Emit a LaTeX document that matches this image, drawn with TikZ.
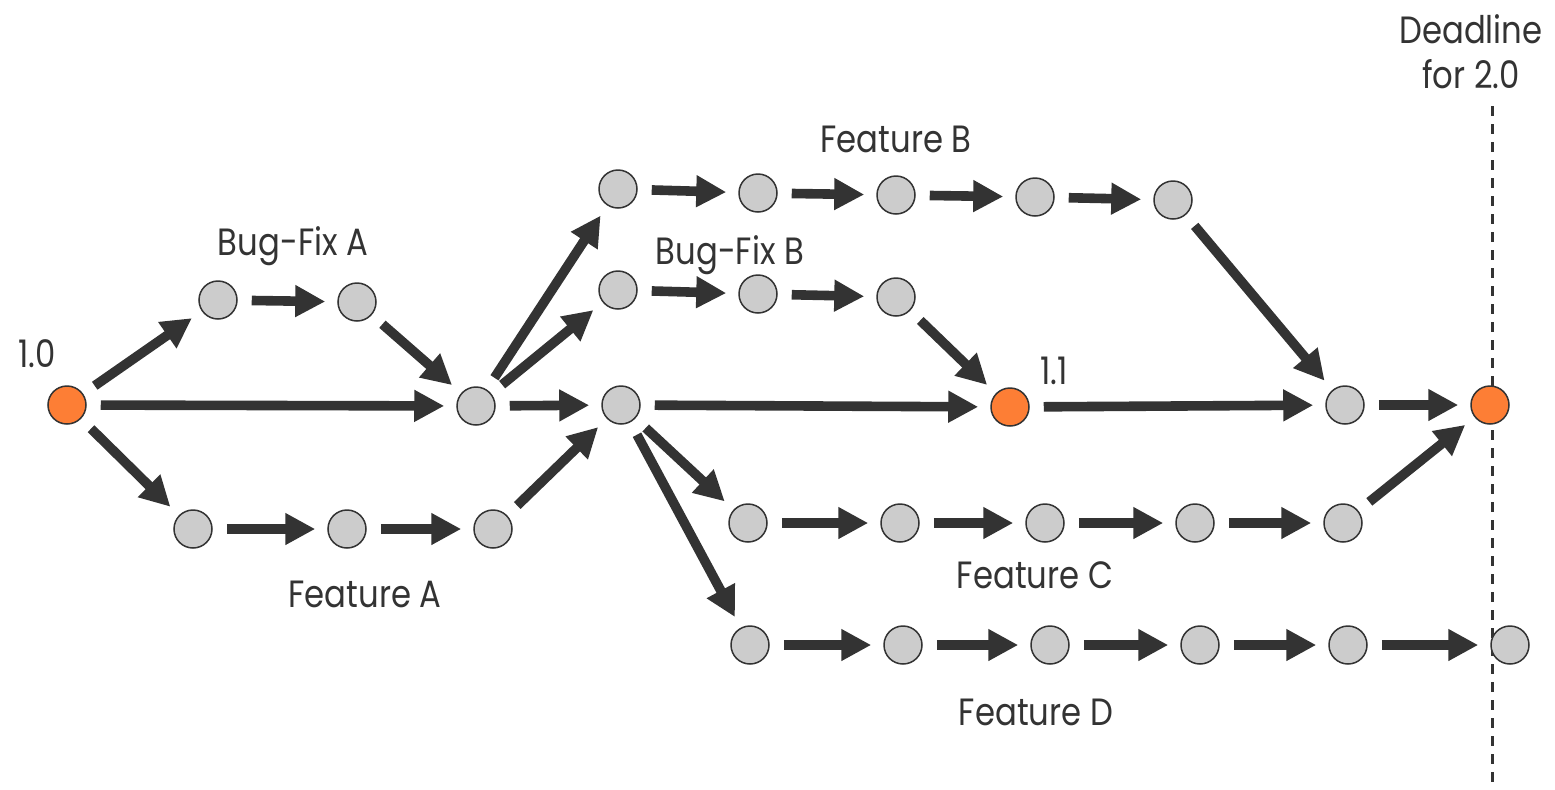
\documentclass[tikz,border=0pt]{standalone}
\usepackage{fontspec}
\setmainfont[FakeStretch=0.85]{Poppins}
\usetikzlibrary{arrows.meta}
\definecolor{ink}{HTML}{333333}
\definecolor{dotgray}{HTML}{CCCCCC}
\definecolor{release}{HTML}{FD7E35}

\begin{document}
\begin{tikzpicture}[x=0.5pt, y=-0.5pt,
  dot/.style={circle, draw=ink, line width=0.75pt, fill=dotgray, minimum size=19pt, inner sep=0pt},
  rel/.style={dot, fill=release},
  arr/.style={draw=ink, line width=4.8pt, -{Triangle[length=15pt,width=15pt]}, shorten <=7pt, shorten >=6pt},
  lbl/.style={text=ink, inner sep=0pt, font=\fontsize{19}{22.5}\selectfont}]
  \useasboundingbox (0,0) rectangle (1555,789);
  \draw[ink, line width=1.5pt, dash pattern=on 5pt off 4pt] (1492,106) -- (1492,789);
  % main line
  \node[rel] (v10) at (67,405) {};
  \node[dot] (m1) at (476,406) {};
  \node[dot] (m2) at (621,405) {};
  \node[rel] (v11) at (1010,407) {};
  \node[dot] (m3) at (1345,405) {};
  \node[rel] (v20) at (1490,405) {};
  % branches
  \node[dot] (ba1) at (218,300) {};
  \node[dot] (ba2) at (357,302) {};
  \node[dot] (fa1) at (193,529) {};
  \node[dot] (fa2) at (347,529) {};
  \node[dot] (fa3) at (493,529) {};
  \foreach \i/\x/\y in {1/618/189, 2/758/193, 3/896/195, 4/1035/197, 5/1173/200}
    \node[dot] (fb\i) at (\x,\y) {};
  \foreach \i/\x/\y in {1/618/290, 2/758/294, 3/896/297}
    \node[dot] (bb\i) at (\x,\y) {};
  \foreach \i/\x in {1/748, 2/900, 3/1045, 4/1195, 5/1343}
    \node[dot] (fc\i) at (\x,523) {};
  \foreach \i/\x in {1/750, 2/903, 3/1050, 4/1200, 5/1348, 6/1510}
    \node[dot] (fd\i) at (\x,645) {};
  % labels
  \node[lbl, anchor=base] (l10) at (37,367) {1.0};
  \node[lbl, anchor=base] (l11) at (1054,384) {1.1};
  \node[lbl, anchor=base] (lba) at (293,255) {Bug-Fix A};
  \node[lbl, anchor=base] (lfa) at (365,607) {Feature A};
  \node[lbl, anchor=base] (lfb) at (896,152) {Feature B};
  \node[lbl, anchor=base] (lbb) at (730,264) {Bug-Fix B};
  \node[lbl, anchor=base] (lfc) at (1035,588) {Feature C};
  \node[lbl, anchor=base] (lfd) at (1036,725) {Feature D};
  \node[lbl, align=center] (ldl) at (1471,52) {Deadline\\for 2.0};
  % arrows
  \draw[arr] (v10) -- (ba1);
  \draw[arr] (ba1) -- (ba2);
  \draw[arr] (ba2) -- (m1);
  \draw[arr] (v10) -- (m1);
  \draw[arr] (v10) -- (fa1);
  \draw[arr] (fa1) -- (fa2);
  \draw[arr] (fa2) -- (fa3);
  \draw[arr] (fa3) -- (m2);
  \draw[arr] (m1) -- (m2);
  \draw[arr] (m1) -- (fb1);
  \draw[arr] (m1) -- (bb1);
  \foreach \a/\b in {1/2, 2/3, 3/4, 4/5}
    \draw[arr] (fb\a) -- (fb\b);
  \draw[arr] (fb5) -- (m3);
  \draw[arr] (bb1) -- (bb2);
  \draw[arr] (bb2) -- (bb3);
  \draw[arr] (bb3) -- (v11);
  \draw[arr] (m2) -- (v11);
  \draw[arr] (v11) -- (m3);
  \draw[arr] (m3) -- (v20);
  \draw[arr] (m2) -- (fc1);
  \foreach \a/\b in {1/2, 2/3, 3/4, 4/5}
    \draw[arr] (fc\a) -- (fc\b);
  \draw[arr] (fc5) -- (v20);
  \draw[arr] (m2) -- (fd1);
  \foreach \a/\b in {1/2, 2/3, 3/4, 4/5, 5/6}
    \draw[arr] (fd\a) -- (fd\b);
\end{tikzpicture}
\end{document}
